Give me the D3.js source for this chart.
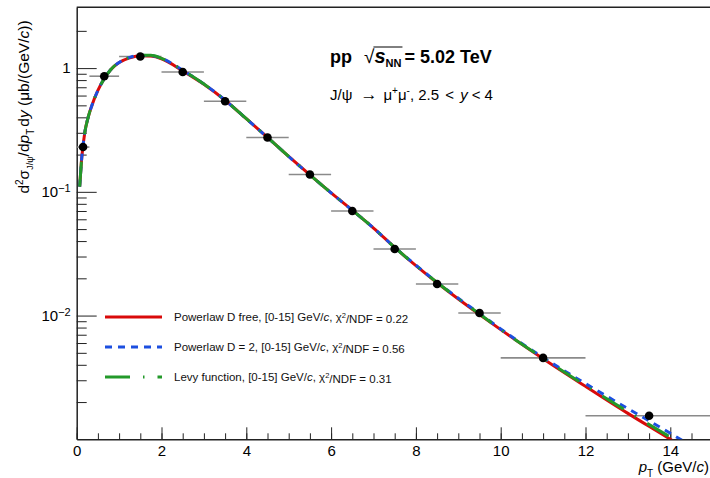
<!DOCTYPE html>
<html>
<head>
<meta charset="utf-8">
<script src="https://cdn.jsdelivr.net/npm/d3@7"></script>
<style>
    body { margin: 0; background: #fff; }
    svg { font-family: "Liberation Sans", Arial, Helvetica, sans-serif; }
</style>
</head>
<body>
<svg id="chart" width="710" height="478"></svg>
<script>
(() => {

    // measured J/psi cross section, pp 5.02 TeV
    const pt_bin_low = [0, 0.3, 1, 2, 3, 4, 5, 6, 7, 8, 9, 10, 12];
    const pt_bin_high = [0.3, 1, 2, 3, 4, 5, 6, 7, 8, 9, 10, 12, 15];
    const pt_centers = [0.15, 0.65, 1.5, 2.5, 3.5, 4.5, 5.5, 6.5, 7.5, 8.5, 9.5, 11, 13.5];
    const cross_section = [0.23, 0.86, 1.24, 0.93, 0.54, 0.275, 0.138, 0.070, 0.0345, 0.018, 0.0105, 0.00455, 0.00155];

    // fit curves
    const fit_pt = [0.07, 0.12, 0.19, 0.27, 0.35, 0.5, 0.62, 0.8, 1.0, 1.25, 1.5, 1.75, 2.0, 2.5, 3.0, 3.5, 4.0, 4.5,
        5.0, 5.5, 6.0, 6.5, 7.0, 7.5, 8.0, 8.5, 9.0, 9.5, 10, 11, 12, 13, 14, 14.5];
    const powerlaw_free = [0.11, 0.19, 0.30, 0.40, 0.49, 0.66, 0.79, 0.97, 1.11, 1.21, 1.26, 1.25, 1.19, 0.95, 0.74, 0.55, 0.39, 0.275,
        0.193, 0.137, 0.098, 0.071, 0.051, 0.0355, 0.0253, 0.0184, 0.0136, 0.0102, 0.0077, 0.00448, 0.00268, 0.00162, 0.00100, 0.00078];
    const powerlaw_d2 = [0.11, 0.19, 0.30, 0.40, 0.49, 0.66, 0.79, 0.97, 1.11, 1.22, 1.27, 1.26, 1.20, 0.96, 0.745, 0.55, 0.39, 0.275,
        0.193, 0.137, 0.098, 0.071, 0.051, 0.0356, 0.0255, 0.0186, 0.0138, 0.0104, 0.0078, 0.00458, 0.00282, 0.00177, 0.00112, 0.00088];
    const levy_fit = [0.11, 0.19, 0.30, 0.40, 0.49, 0.66, 0.79, 0.97, 1.11, 1.22, 1.27, 1.27, 1.20, 0.96, 0.745, 0.55, 0.39, 0.275,
        0.193, 0.137, 0.098, 0.071, 0.051, 0.0355, 0.0254, 0.0185, 0.0137, 0.0103, 0.0077, 0.00452, 0.00272, 0.00167, 0.00104, 0.00082];

    const x_ticks = [0, 2, 4, 6, 8, 10, 12, 14];
    const y_ticks = [1e-2, 1e-1, 1];
    const y_tick_labels = [['10', '\u22122'], ['10', '\u22121'], ['1', '']];

    const legend_labels = [
        ['Powerlaw D free, [0-15] GeV/', 'c', ', \u03c7', '2', '/NDF = 0.22'],
        ['Powerlaw D = 2, [0-15] GeV/', 'c', ', \u03c7', '2', '/NDF = 0.56'],
        ['Levy function, [0-15] GeV/', 'c', ', \u03c7', '2', '/NDF = 0.31']
    ];

    // chart parameters
    const left = 76.7, right = 712.7, top = 7.3, bottom = 439.3;
    const fit_styles = [
        { color: '#d90a0a', dash: null },
        { color: '#1c4fe0', dash: '7,6' },
        { color: '#23992a', dash: '25,13,1.5,13' }
    ];

    let svg = d3.select('#chart');

    let x_scale = d3.scaleLinear().domain([0, 15]).range([left, right]);
    let y_scale = d3.scaleLog().domain([1e-3, 3.1]).range([bottom, top]);

    // minor ticks
    let y_minor = [];
    [1e-3, 1e-2, 1e-1, 1].forEach((d) => {
        for (let k = 2; k <= 9; k++) {
            if (d * k < 3) y_minor.push(d * k);
        }
    });
    let x_minor = d3.range(0, 15.01, 0.5);

    svg.append('g')
        .attr('transform', `translate(0, ${bottom})`)
        .call(d3.axisBottom(x_scale).tickValues(x_minor).tickSize(-6).tickFormat(''))
        .call((g) => g.select('.domain').remove())
        .selectAll('line').attr('stroke', '#222');

    svg.append('g')
        .attr('transform', `translate(${left}, 0)`)
        .call(d3.axisLeft(y_scale).tickValues(y_minor).tickSize(-10).tickFormat(''))
        .call((g) => g.select('.domain').remove())
        .selectAll('line').attr('stroke', '#222');

    // major x axis
    let x_axis = svg.append('g')
        .attr('transform', `translate(0, ${bottom})`)
        .call(d3.axisBottom(x_scale).tickValues(x_ticks).tickSize(-12).tickSizeOuter(0).tickPadding(6));
    x_axis.select('.domain').attr('stroke', '#222').attr('stroke-width', 1.5);
    x_axis.selectAll('line').attr('stroke', '#222');
    x_axis.selectAll('text').style('font-size', '15px').attr('fill', '#000');

    // major y axis
    let y_axis = svg.append('g')
        .attr('transform', `translate(${left}, 0)`)
        .call(d3.axisLeft(y_scale).tickValues(y_ticks).tickSize(-20).tickSizeOuter(0).tickPadding(6));
    y_axis.select('.domain').attr('stroke', '#222').attr('stroke-width', 1.5);
    y_axis.selectAll('line').attr('stroke', '#222');
    y_axis.selectAll('text')
        .style('font-size', '15px')
        .attr('fill', '#000')
        .text(null)
        .each(function (d, i) {
            let t = d3.select(this);
            t.append('tspan').text(y_tick_labels[i][0]);
            if (y_tick_labels[i][1]) {
                t.append('tspan').attr('dy', '-0.45em').style('font-size', '11px').text(y_tick_labels[i][1]);
            }
        });

    // top frame line
    svg.append('line')
        .attr('x1', left).attr('x2', 710)
        .attr('y1', top).attr('y2', top)
        .attr('stroke', '#222').attr('stroke-width', 1.5);

    // clip for curves
    svg.append('clipPath').attr('id', 'plot_clip')
        .append('rect')
        .attr('x', left).attr('y', top)
        .attr('width', right - left).attr('height', bottom - top);

    // error bars
    svg.append('g')
        .selectAll('line')
        .data(pt_centers)
        .enter()
        .append('line')
        .attr('x1', (d, i) => x_scale(pt_bin_low[i]))
        .attr('x2', (d, i) => Math.min(x_scale(pt_bin_high[i]), 710))
        .attr('y1', (d, i) => y_scale(cross_section[i]))
        .attr('y2', (d, i) => y_scale(cross_section[i]))
        .attr('stroke', '#8a8a8a')
        .attr('stroke-width', 1.6);

    // draw fit lines
    [powerlaw_free, powerlaw_d2, levy_fit].forEach((values, k) => {
        svg.append('path')
            .datum(values.map((v, i) => [fit_pt[i], v]))
            .attr('clip-path', 'url(#plot_clip)')
            .attr('fill', 'none')
            .attr('stroke', fit_styles[k].color)
            .attr('stroke-width', 3)
            .attr('stroke-dasharray', fit_styles[k].dash)
            .attr('d', d3.line()
                .curve(d3.curveMonotoneX)
                .x((d) => x_scale(d[0]))
                .y((d) => y_scale(d[1])));
    });

    // data points
    svg.append('g')
        .selectAll('circle')
        .data(pt_centers)
        .enter()
        .append('circle')
        .attr('cx', (d) => x_scale(d))
        .attr('cy', (d, i) => y_scale(cross_section[i]))
        .attr('r', 4.3)
        .attr('fill', '#000');

    // legend
    let legend = svg.append('g');
    legend.selectAll('line')
        .data(legend_labels)
        .enter()
        .append('line')
        .attr('x1', 105).attr('x2', 162)
        .attr('y1', (d, i) => 317 + i * 30)
        .attr('y2', (d, i) => 317 + i * 30)
        .attr('stroke', (d, i) => fit_styles[i].color)
        .attr('stroke-width', 3)
        .attr('stroke-dasharray', (d, i) => fit_styles[i].dash);

    legend.selectAll('text')
        .data(legend_labels)
        .enter()
        .append('text')
        .attr('x', 174)
        .attr('y', (d, i) => 321 + i * 30)
        .style('font-size', '11.5px')
        .attr('fill', '#111')
        .each(function (d) {
            let t = d3.select(this);
            t.append('tspan').text(d[0]);
            t.append('tspan').style('font-style', 'italic').text(d[1]);
            t.append('tspan').text(d[2]);
            t.append('tspan').attr('dy', '-0.45em').style('font-size', '7.5px').text(d[3]);
            t.append('tspan').attr('dy', '0.45em').text(d[4]);
        });

    // title block
    let title = svg.append('text')
        .attr('x', 330).attr('y', 63)
        .style('font-size', '18px')
        .style('font-weight', 'bold')
        .attr('fill', '#000');
    title.append('tspan').text('pp');
    title.append('tspan').attr('dx', '12').style('font-weight', 'normal').style('font-size', '19px').text('\u221a');
    title.append('tspan').style('font-style', 'italic').style('font-size', '20px').text('s');
    title.append('tspan').attr('dy', '4').style('font-size', '11px').text('NN');
    title.append('tspan').attr('dy', '-4').attr('dx', '3').text('= 5.02 TeV');

    // overline of the square root
    let title_node = title.node();
    let root_end = title_node.getEndPositionOfChar(2);
    let nn_end = title_node.getEndPositionOfChar(5);
    svg.append('line')
        .attr('x1', root_end.x - 1).attr('x2', nn_end.x + 1)
        .attr('y1', 47).attr('y2', 47)
        .attr('stroke', '#000').attr('stroke-width', 1);

    let subtitle = svg.append('text')
        .attr('x', 330).attr('y', 100)
        .style('font-size', '15px')
        .attr('fill', '#000');
    subtitle.append('tspan').text('J/\u03c8');
    subtitle.append('tspan').attr('dx', '8').style('font-size', '17px').text('\u2192');
    subtitle.append('tspan').attr('dx', '6').text('\u03bc');
    subtitle.append('tspan').attr('dy', '-6').style('font-size', '10px').text('+');
    subtitle.append('tspan').attr('dy', '6').text('\u03bc');
    subtitle.append('tspan').attr('dy', '-6').style('font-size', '10px').text('-');
    subtitle.append('tspan').attr('dy', '6').text(', 2.5 ');
    subtitle.append('tspan').attr('dx', '2').text('< ');
    subtitle.append('tspan').attr('dx', '2').style('font-style', 'italic').text('y');
    subtitle.append('tspan').attr('dx', '4').text('< 4');

    // x axis title
    let x_title = svg.append('text')
        .attr('x', 709).attr('y', 472)
        .attr('text-anchor', 'end')
        .style('font-size', '15px')
        .attr('fill', '#000');
    x_title.append('tspan').style('font-style', 'italic').text('p');
    x_title.append('tspan').attr('dy', '5').style('font-size', '10px').text('T');
    x_title.append('tspan').attr('dy', '-5').text(' (GeV/');
    x_title.append('tspan').style('font-style', 'italic').text('c');
    x_title.append('tspan').text(')');

    // y axis title
    let y_title = svg.append('text')
        .attr('transform', 'translate(29, 107) rotate(-90)')
        .attr('text-anchor', 'middle')
        .style('font-size', '15.5px')
        .attr('fill', '#000');
    y_title.append('tspan').text('d');
    y_title.append('tspan').attr('dy', '-6').style('font-size', '10px').text('2');
    y_title.append('tspan').attr('dy', '6').text('\u03c3');
    y_title.append('tspan').attr('dy', '4').style('font-size', '9px').text('J/\u03c8');
    y_title.append('tspan').attr('dy', '-4').text('/d');
    y_title.append('tspan').style('font-style', 'italic').text('p');
    y_title.append('tspan').attr('dy', '5').style('font-size', '10px').text('T');
    y_title.append('tspan').attr('dy', '-5').attr('dx', '2').text('d');
    y_title.append('tspan').style('font-style', 'italic').text('y');
    y_title.append('tspan').text('  (\u03bcb/(GeV/');
    y_title.append('tspan').style('font-style', 'italic').text('c');
    y_title.append('tspan').text('))');

})();
</script>
</body>
</html>
